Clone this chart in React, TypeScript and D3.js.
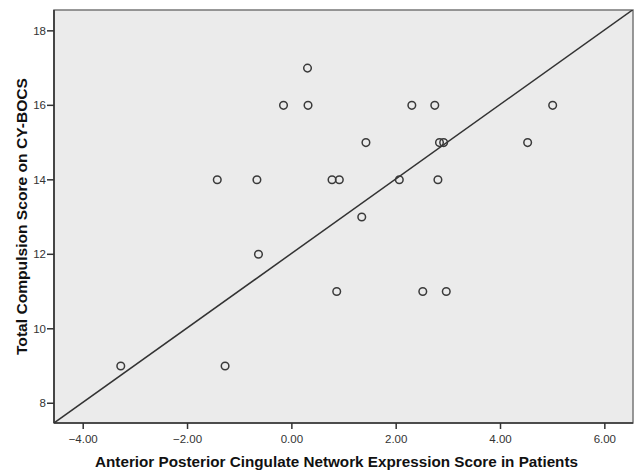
import React from "react";
import * as d3 from "d3";

const xValues = [0.30, -0.16, 0.31, 2.30, 2.74, 5.00, 1.42, 2.83, 2.91, 4.52, -1.43, -0.67, 0.77, 0.91, 2.06, 2.80, 1.34, -0.64, 0.86, 2.51, 2.96, -3.28, -1.28];
const yValues = [17, 16, 16, 16, 16, 16, 15, 15, 15, 15, 14, 14, 14, 14, 14, 14, 13, 12, 11, 11, 11, 9, 9];
const xTicks = [-4, -2, 0, 2, 4, 6];
const yTicks = [8, 10, 12, 14, 16, 18];
const xDomain = [-4.56, 6.54];
const yDomain = [7.47, 18.56];
const lineIntercept = 12.03;
const lineSlope = 1.0;
const xTitle = "Anterior Posterior Cingulate Network Expression Score in Patients";
const yTitle = "Total Compulsion Score on CY-BOCS";

const W = 634, H = 474;
const M = { left: 54, right: 1, top: 10, bottom: 51 };

export default function App() {
  const x = d3.scaleLinear().domain(xDomain).range([M.left, W - M.right]);
  const y = d3.scaleLinear().domain(yDomain).range([H - M.bottom, M.top]);
  const line = d3.line<number>().x((v) => x(v)).y((v) => y(lineIntercept + lineSlope * v));
  const font = "'Liberation Sans', Arial, sans-serif";
  const x0 = M.left, x1 = W - M.right, y0 = H - M.bottom, y1 = M.top;
  return (
    <svg width={W} height={H} style={{ position: "absolute", left: 0, top: 0, background: "#fff" }} fontFamily={font}>
      <rect x={x0} y={y1} width={x1 - x0} height={y0 - y1} fill="#ebebeb" stroke="#777" strokeWidth={1.5} />
      <defs>
        <clipPath id="plot"><rect x={x0} y={y1} width={x1 - x0} height={y0 - y1} /></clipPath>
      </defs>
      <path d={line(xDomain) || ""} stroke="#333" strokeWidth={1.5} fill="none" clipPath="url(#plot)" />
      {xValues.map((v, i) => (
        <circle key={i} cx={x(v)} cy={y(yValues[i])} r={3.8} fill="none" stroke="#3a3a3a" strokeWidth={1.5} />
      ))}
      <line x1={x0} x2={x0} y1={y1} y2={y0} stroke="#333" strokeWidth={1.6} />
      <line x1={x0} x2={x1} y1={y0} y2={y0} stroke="#333" strokeWidth={1.6} />
      {xTicks.map((t) => (
        <g key={t}>
          <line x1={x(t)} x2={x(t)} y1={y0} y2={y0 + 6} stroke="#333" strokeWidth={1.5} />
          <text x={x(t)} y={y0 + 20} textAnchor="middle" fontSize={11.5} fill="#333">{d3.format(".2f")(t)}</text>
        </g>
      ))}
      {yTicks.map((t) => (
        <g key={t}>
          <line x1={x0 - 7} x2={x0} y1={y(t)} y2={y(t)} stroke="#333" strokeWidth={1.5} />
          <text x={x0 - 8} y={y(t) + 4} textAnchor="end" fontSize={11.5} fill="#333">{t}</text>
        </g>
      ))}
      <text x={336.5} y={467} textAnchor="middle" fontSize={15.2} fontWeight="bold" fill="#111" textLength={483} lengthAdjust="spacingAndGlyphs">{xTitle}</text>
      <text transform={`translate(27,216.5) rotate(-90)`} textAnchor="middle" fontSize={15.2} fontWeight="bold" fill="#111" textLength={277} lengthAdjust="spacingAndGlyphs">{yTitle}</text>
    </svg>
  );
}
